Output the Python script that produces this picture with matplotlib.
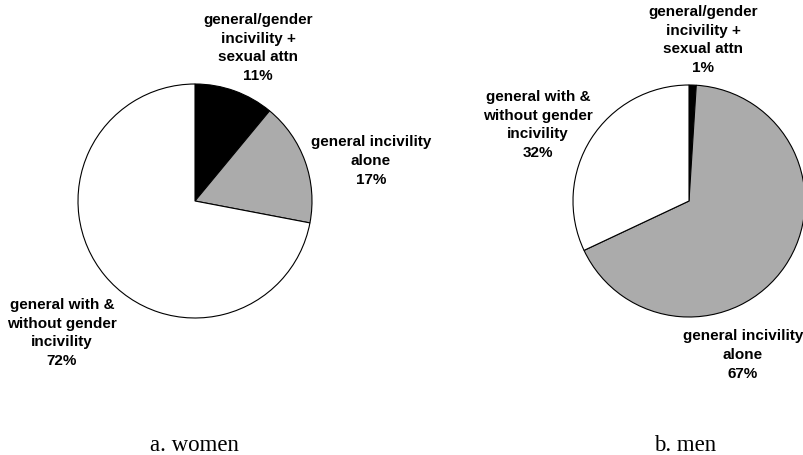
import matplotlib
matplotlib.use("Agg")
import matplotlib.pyplot as plt

# --- data ---
women_labels = ["general/gender\nincivility +\nsexual attn\n11%",
                "general incivility\nalone\n17%",
                "general with &\nwithout gender\nincivility\n72%"]
women_values = [11, 17, 72]
men_labels = ["general/gender\nincivility +\nsexual attn\n1%",
              "general incivility\nalone\n67%",
              "general with &\nwithout gender\nincivility\n32%"]
men_values = [1, 67, 32]
captions = ["a. women", "b. men"]

# --- layout (pixel coords, origin top-left) ---
W, H = 804, 456
colors = ["black", "#ababab", "white"]
pies = [
    dict(values=women_values, labels=women_labels, center=(195, 202), r=117,
         label_pos=[(258, 48), (371, 161), (62, 333)], cap_x=194),
    dict(values=men_values, labels=men_labels, center=(689, 202), r=116,
         label_pos=[(703, 40), (743, 355), (538, 125)], cap_x=685),
]

fig = plt.figure(figsize=(W / 100, H / 100), dpi=100)
ax = fig.add_axes([0, 0, 1, 1])
ax.set_xlim(0, W)
ax.set_ylim(0, H)
ax.set_aspect("equal")
ax.axis("off")

for p, cap in zip(pies, captions):
    cx, cy = p["center"]
    ax.pie(p["values"], colors=colors, startangle=90, counterclock=False,
           center=(cx, H - cy), radius=p["r"],
           wedgeprops=dict(edgecolor="black", linewidth=0.8))
    for txt, (tx, ty) in zip(p["labels"], p["label_pos"]):
        ax.text(tx, H - ty, txt, ha="center", va="center", fontsize=11,
                fontweight="bold", family="Liberation Sans", linespacing=1.42)
    ax.text(p["cap_x"], H - 446, cap, ha="center", va="center", fontsize=16.5,
            family="Liberation Serif")

ax.set_xlim(0, W)
ax.set_ylim(0, H)
fig.savefig("out.png", dpi=100)
